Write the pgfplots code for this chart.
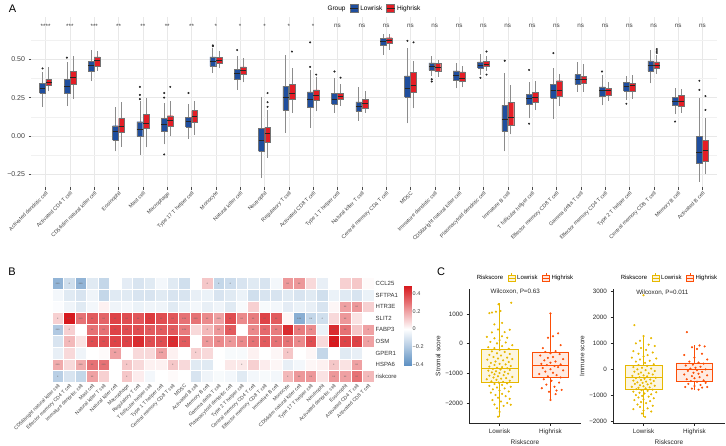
\documentclass[border=0pt]{standalone}
\usepackage{pgfplots}
\pgfplotsset{compat=1.18}
\usepackage{pgfplotstable}
\usepackage{fontspec}
\setmainfont{Liberation Sans}
\definecolor{lowblue}{RGB}{31,78,158}
\definecolor{highred}{RGB}{228,30,38}
\definecolor{lowyel}{RGB}{231,184,0}
\definecolor{highorg}{RGB}{252,78,7}
\definecolor{gridc}{RGB}{232,232,232}
\newcommand\fs[1]{\fontsize{#1}{#1}\selectfont}
\pgfplotsset{colormap={hm}{rgb255(0pt)=(95,145,195); rgb255(41pt)=(255,255,255); rgb255(90pt)=(215,25,30)}}

% Panel A: box statistics (lower whisker, quartiles, median, upper whisker)
\pgfplotstableread{
lw lq med uq uw
0.19 0.28 0.31 0.345 0.42
0.195 0.28 0.325 0.368 0.48
0.357 0.424 0.46 0.487 0.56
-0.10 -0.026 0.028 0.067 0.186
-0.123 0 0.043 0.093 0.23
-0.054 0.032 0.076 0.115 0.216
-0.02 0.06 0.095 0.12 0.21
0.41 0.455 0.487 0.515 0.57
0.30 0.37 0.407 0.435 0.52
-0.275 -0.10 -0.03 0.05 0.255
0.02 0.17 0.25 0.325 0.525
0.055 0.186 0.24 0.288 0.43
0.15 0.208 0.238 0.277 0.38
0.10 0.162 0.195 0.223 0.316
0.53 0.589 0.613 0.638 0.667
0.082 0.255 0.31 0.392 0.57
0.39 0.429 0.455 0.476 0.524
0.31 0.364 0.396 0.424 0.476
0.40 0.444 0.461 0.483 0.532
-0.10 0.032 0.11 0.20 0.41
0.115 0.206 0.245 0.27 0.353
0.113 0.245 0.30 0.338 0.44
0.288 0.338 0.368 0.40 0.483
0.20 0.262 0.294 0.32 0.396
0.234 0.294 0.32 0.35 0.392
0.342 0.424 0.457 0.489 0.563
0.143 0.20 0.227 0.251 0.31
-0.297 -0.177 -0.106 0 0.25
}\lowtab
\pgfplotstableread{
lw lq med uq uw
0.29 0.33 0.35 0.37 0.45
0.24 0.34 0.38 0.42 0.52
0.424 0.452 0.49 0.515 0.555
-0.07 0.024 0.06 0.115 0.22
-0.074 0.05 0.082 0.14 0.25
0 0.065 0.10 0.132 0.23
0.005 0.09 0.125 0.165 0.23
0.44 0.472 0.493 0.51 0.555
0.35 0.403 0.428 0.45 0.51
-0.14 -0.04 0.017 0.055 0.17
0.15 0.238 0.28 0.337 0.44
0.16 0.234 0.262 0.30 0.385
0.195 0.238 0.258 0.277 0.34
0.15 0.18 0.21 0.238 0.29
0.563 0.602 0.623 0.64 0.667
0.18 0.283 0.33 0.413 0.49
0.385 0.42 0.45 0.472 0.494
0.316 0.355 0.375 0.418 0.459
0.424 0.455 0.468 0.487 0.52
0.011 0.069 0.121 0.219 0.335
0.169 0.223 0.251 0.283 0.357
0.195 0.262 0.294 0.36 0.407
0.288 0.346 0.368 0.39 0.472
0.227 0.266 0.294 0.31 0.353
0.242 0.294 0.33 0.342 0.396
0.407 0.44 0.461 0.483 0.526
0.152 0.195 0.227 0.266 0.303
-0.247 -0.167 -0.095 -0.03 0.115
}\hightab

% draws one box (whiskers, box, median) of row #2 of table #1 at x position #3 in colour #4
\newcommand\boxrow[4]{%
  \pgfplotstablegetelem{#2}{lw}\of#1\let\vlw\pgfplotsretval
  \pgfplotstablegetelem{#2}{lq}\of#1\let\vlq\pgfplotsretval
  \pgfplotstablegetelem{#2}{med}\of#1\let\vmed\pgfplotsretval
  \pgfplotstablegetelem{#2}{uq}\of#1\let\vuq\pgfplotsretval
  \pgfplotstablegetelem{#2}{uw}\of#1\let\vuw\pgfplotsretval
  \pgfmathsetmacro\vpos{#3}%
  \pgfmathsetmacro\vl{#3-0.118}%
  \pgfmathsetmacro\vr{#3+0.118}%
  \edef\doplot{%
    \noexpand\addplot[black!45, line width=0.7pt] coordinates {(\vpos,\vlw) (\vpos,\vlq)};
    \noexpand\addplot[black!45, line width=0.7pt] coordinates {(\vpos,\vuq) (\vpos,\vuw)};
    \noexpand\addplot[fill=#4, draw=black!55, line width=0.4pt] coordinates {(\vl,\vlq) (\vr,\vlq) (\vr,\vuq) (\vl,\vuq) (\vl,\vlq)};
    \noexpand\addplot[black!85, line width=0.8pt] coordinates {(\vl,\vmed) (\vr,\vmed)};
  }%
  \doplot}

\begin{document}
\begin{tikzpicture}
\useasboundingbox (0pt,0pt) rectangle (726pt,445pt);

% ---------------- Panel A ----------------
\node[font=\fs{11}] at (12.5pt,436pt) {A};
\begin{axis}[
  at={(31pt,258pt)}, anchor=south west, scale only axis, width=686pt, height=170pt,
  xmin=-0.6, xmax=27.6, ymin=-0.332, ymax=0.775,
  xtick={0,...,27},
  xticklabels={Activated dendritic cell,Activated CD4 T cell,CD56dim natural killer cell,Eosinophil,Mast cell,Macrophage,Type 17 T helper cell,Monocyte,Natural killer cell,Neutrophil,Regulatory T cell,Activated CD8 T cell,Type 1 T helper cell,Natural killer T cell,Central memory CD4 T cell,MDSC,Immature dendritic cell,CD56bright natural killer cell,Plasmacytoid dendritic cell,Immature B cell,T follicular helper cell,Effector memory CD8 T cell,Gamma delta T cell,Effector memory CD4 T cell,Type 2 T helper cell,Central memory CD8 T cell,Memory B cell,Activated B cell},
  xticklabel style={rotate=45, anchor=north east, font=\fs{5.3}, text=black!75, inner sep=1pt},
  ytick={-0.25,0,0.25,0.5}, yticklabels={−0.25,0.00,0.25,0.50},
  yticklabel style={font=\fs{7}, text=black!75},
  minor ytick={-0.125,0.125,0.375,0.625},
  grid=both, major grid style={gridc, line width=0.5pt}, minor grid style={gridc!60, line width=0.3pt},
  axis line style={draw=none},
  tick align=outside, major tick length=2.5pt, minor tick length=0pt,
  tick style={black!70, line width=0.4pt}, tick pos=left,
  legend style={at={(0.5,1)}, anchor=south, yshift=3pt, legend columns=-1, draw=none, fill=none,
    font=\fs{6.5}, inner sep=0pt, /tikz/every even column/.append style={column sep=2pt}},
  legend cell align=left,
]
\addlegendimage{empty legend}\addlegendentry{Group}
\addlegendimage{legend image code/.code={\draw[fill=lowblue, draw=black!55] (0pt,-4pt) rectangle (8pt,4pt); \draw[black!85, line width=0.7pt] (0pt,0pt)--(8pt,0pt);}}\addlegendentry{Lowrisk}
\addlegendimage{legend image code/.code={\draw[fill=highred, draw=black!55] (0pt,-4pt) rectangle (8pt,4pt); \draw[black!85, line width=0.7pt] (0pt,0pt)--(8pt,0pt);}}\addlegendentry{Highrisk}

\pgfplotsinvokeforeach{0,...,27}{
  \boxrow{\lowtab}{#1}{#1-0.125}{lowblue}
  \boxrow{\hightab}{#1}{#1+0.125}{highred}
}
% outliers
\addplot[only marks, mark=*, mark size=0.8pt, black!85] table[row sep=\\] {
x y\\ -0.125 0.44\\ 0.875 0.51\\ 3.875 0.32\\ 3.875 0.268\\ 3.875 0.24\\ 4.875 0.28\\ 4.875 0.25\\ 4.875 -0.12\\
5.875 0.28\\ 6.875 0.585\\ 6.875 0.59\\ 7.875 0.56\\ 10.875 0.61\\ 10.875 0.45\\ 11.875 0.42\\ 14.875 0.62\\
15.875 0.37\\ 15.875 0.355\\ 17.875 0.379\\ 18.875 0.49\\ 19.875 0.43\\ 19.875 0.08\\ 20.875 0.54\\ 22.875 0.42\\
23.875 0.21\\ 25.875 0.094\\ 26.875 0.36\\ 26.875 0.30\\
5.125 0.32\\ 9.125 0.28\\ 9.125 0.22\\ 9.125 0.19\\ 10.125 0.55\\ 11.125 0.40\\ 12.125 0.38\\ 15.125 0.61\\
18.125 0.55\\ 18.125 0.40\\ 25.125 0.566\\ 25.125 0.553\\ 25.125 0.541\\ 27.125 0.26\\ 27.125 0.17\\
};
% significance labels
\addplot[only marks, mark=none, nodes near coords, point meta=explicit symbolic, nodes near coords align={center},
  every node near coord/.append style={font=\fs{6.3}, text=black!75, anchor=center}] table[row sep=\\, meta=s] {
x y s\\ 0 0.715 ****\\ 1 0.715 ***\\ 2 0.715 ***\\ 3 0.715 **\\ 4 0.715 **\\ 5 0.715 **\\ 6 0.715 **\\
7 0.715 *\\ 8 0.715 *\\ 9 0.715 *\\ 10 0.715 *\\ 11 0.715 *\\ 12 0.715 ns\\ 13 0.715 ns\\ 14 0.715 ns\\
15 0.715 ns\\ 16 0.715 ns\\ 17 0.715 ns\\ 18 0.715 ns\\ 19 0.715 ns\\ 20 0.715 ns\\ 21 0.715 ns\\
22 0.715 ns\\ 23 0.715 ns\\ 24 0.715 ns\\ 25 0.715 ns\\ 26 0.715 ns\\ 27 0.715 ns\\
};
\end{axis}

% ---------------- Panel B ----------------
\node[font=\fs{11}] at (12pt,173pt) {B};
\begin{axis}[
  at={(52pt,63pt)}, anchor=south west, scale only axis, width=322pt, height=104.4pt,
  xmin=-0.5, xmax=27.5, ymin=-0.5, ymax=8.5, y dir=reverse,
  axis line style={draw=none}, major tick length=0pt, clip=false,
  xtick={0,...,27},
  xticklabels={CD56bright natural killer cell,Effector memory CD4 T cell,Immature dendritic cell,Mast cell,Natural killer T cell,Natural killer cell,Macrophage,Regulatory T cell,T follicular helper cell,Type 1 T helper cell,Central memory CD8 T cell,MDSC,Activated B cell,Memory B cell,Gamma delta T cell,Plasmacytoid dendritic cell,Type 2 T helper cell,Central memory CD4 T cell,Effector memory CD8 T cell,Immature B cell,Monocyte,CD56dim natural killer cell,Type 17 T helper cell,Neutrophil,Activated dendritic cell,Eosinophil,Activated CD4 T cell,Activated CD8 T cell},
  xticklabel style={rotate=45, anchor=north east, font=\fs{5}, text=black!75, inner sep=1pt},
  ytick={0,...,8}, yticklabels={CCL25,SFTPA1,HTR3E,SLIT2,FABP3,OSM,GPER1,HSPA6,riskcore},
  yticklabel pos=right, yticklabel style={font=\fs{6}, text=black!80, inner sep=1.5pt},
  colormap name=hm, point meta min=-0.41, point meta max=0.49,
]
\addplot[scatter, only marks, mark=square*, mark size=5.75pt, line width=0.5pt,
  scatter/use mapped color={draw=white, fill=mapped color}, point meta=explicit]
  table[row sep=\\, meta=v] {
x y v\\
0 0 -0.28\\ 1 0 -0.12\\ 2 0 -0.28\\ 3 0 -0.08\\ 4 0 -0.15\\ 5 0 0.0\\ 6 0 -0.07\\ 7 0 -0.1\\ 8 0 -0.08\\ 9 0 -0.03\\ 10 0 -0.08\\ 11 0 -0.12\\ 12 0 0.0\\ 13 0 0.12\\ 14 0 -0.15\\ 15 0 -0.13\\ 16 0 -0.1\\ 17 0 -0.08\\ 18 0 -0.1\\ 19 0 -0.03\\ 20 0 0.22\\ 21 0 0.22\\ 22 0 0.08\\ 23 0 -0.06\\ 24 0 0.0\\ 25 0 0.1\\ 26 0 0.12\\ 27 0 0.01\\
0 1 -0.03\\ 1 1 -0.08\\ 2 1 -0.1\\ 3 1 -0.04\\ 4 1 -0.15\\ 5 1 -0.08\\ 6 1 -0.08\\ 7 1 -0.1\\ 8 1 -0.1\\ 9 1 -0.08\\ 10 1 -0.1\\ 11 1 -0.1\\ 12 1 -0.06\\ 13 1 -0.05\\ 14 1 -0.1\\ 15 1 -0.08\\ 16 1 -0.05\\ 17 1 -0.12\\ 18 1 -0.1\\ 19 1 -0.1\\ 20 1 -0.08\\ 21 1 -0.1\\ 22 1 -0.08\\ 23 1 -0.12\\ 24 1 -0.05\\ 25 1 -0.08\\ 26 1 -0.1\\ 27 1 -0.05\\
0 2 -0.01\\ 1 2 -0.04\\ 2 2 -0.08\\ 3 2 -0.03\\ 4 2 0.03\\ 5 2 -0.04\\ 6 2 -0.03\\ 7 2 -0.05\\ 8 2 -0.04\\ 9 2 -0.04\\ 10 2 -0.08\\ 11 2 -0.05\\ 12 2 -0.03\\ 13 2 -0.06\\ 14 2 -0.04\\ 15 2 -0.08\\ 16 2 -0.02\\ 17 2 0.1\\ 18 2 -0.02\\ 19 2 -0.03\\ 20 2 -0.07\\ 21 2 -0.05\\ 22 2 -0.06\\ 23 2 -0.1\\ 24 2 0.02\\ 25 2 0.2\\ 26 2 0.22\\ 27 2 0.1\\
0 3 0.1\\ 1 3 0.5\\ 2 3 0.3\\ 3 3 0.35\\ 4 3 0.33\\ 5 3 0.4\\ 6 3 0.38\\ 7 3 0.36\\ 8 3 0.42\\ 9 3 0.38\\ 10 3 0.36\\ 11 3 0.3\\ 12 3 0.3\\ 13 3 0.25\\ 14 3 0.2\\ 15 3 0.38\\ 16 3 0.25\\ 17 3 0.28\\ 18 3 0.4\\ 19 3 0.35\\ 20 3 0.02\\ 21 3 -0.3\\ 22 3 -0.15\\ 23 3 -0.12\\ 24 3 0.08\\ 25 3 0.22\\ 26 3 0.06\\ 27 3 0.0\\
0 4 -0.2\\ 1 4 0.1\\ 2 4 0.0\\ 3 4 0.3\\ 4 4 0.3\\ 5 4 0.4\\ 6 4 0.38\\ 7 4 0.38\\ 8 4 0.35\\ 9 4 0.35\\ 10 4 0.35\\ 11 4 0.28\\ 12 4 0.08\\ 13 4 0.15\\ 14 4 0.22\\ 15 4 0.35\\ 16 4 0.0\\ 17 4 0.25\\ 18 4 0.32\\ 19 4 0.28\\ 20 4 0.45\\ 21 4 0.28\\ 22 4 0.25\\ 23 4 -0.05\\ 24 4 0.45\\ 25 4 0.3\\ 26 4 0.12\\ 27 4 0.2\\
0 5 -0.1\\ 1 5 0.15\\ 2 5 0.06\\ 3 5 0.38\\ 4 5 0.38\\ 5 5 0.4\\ 6 5 0.4\\ 7 5 0.45\\ 8 5 0.38\\ 9 5 0.38\\ 10 5 0.45\\ 11 5 0.35\\ 12 5 0.0\\ 13 5 0.22\\ 14 5 0.25\\ 15 5 0.22\\ 16 5 0.25\\ 17 5 0.3\\ 18 5 0.35\\ 19 5 0.3\\ 20 5 0.3\\ 21 5 0.25\\ 22 5 0.38\\ 23 5 0.08\\ 24 5 0.5\\ 25 5 0.4\\ 26 5 0.4\\ 27 5 0.2\\
0 6 -0.06\\ 1 6 0.08\\ 2 6 -0.04\\ 3 6 0.0\\ 4 6 0.01\\ 5 6 0.2\\ 6 6 0.0\\ 7 6 0.08\\ 8 6 0.08\\ 9 6 0.2\\ 10 6 0.03\\ 11 6 0.0\\ 12 6 0.1\\ 13 6 0.08\\ 14 6 0.0\\ 15 6 -0.02\\ 16 6 -0.02\\ 17 6 0.03\\ 18 6 0.0\\ 19 6 0.02\\ 20 6 0.12\\ 21 6 0.0\\ 22 6 0.02\\ 23 6 -0.15\\ 24 6 0.0\\ 25 6 -0.08\\ 26 6 -0.06\\ 27 6 0.0\\
0 7 0.18\\ 1 7 0.08\\ 2 7 0.18\\ 3 7 0.3\\ 4 7 0.3\\ 5 7 0.0\\ 6 7 0.12\\ 7 7 0.08\\ 8 7 0.03\\ 9 7 0.03\\ 10 7 0.12\\ 11 7 0.08\\ 12 7 -0.08\\ 13 7 -0.08\\ 14 7 0.0\\ 15 7 0.05\\ 16 7 0.05\\ 17 7 0.1\\ 18 7 0.04\\ 19 7 0.02\\ 20 7 -0.06\\ 21 7 -0.03\\ 22 7 0.02\\ 23 7 0.03\\ 24 7 0.12\\ 25 7 0.06\\ 26 7 0.2\\ 27 7 0.0\\
0 8 -0.18\\ 1 8 -0.1\\ 2 8 -0.15\\ 3 8 0.2\\ 4 8 0.1\\ 5 8 0.0\\ 6 8 0.12\\ 7 8 0.04\\ 8 8 -0.03\\ 9 8 0.0\\ 10 8 0.01\\ 11 8 0.0\\ 12 8 -0.1\\ 13 8 -0.04\\ 14 8 -0.02\\ 15 8 -0.03\\ 16 8 -0.08\\ 17 8 -0.03\\ 18 8 -0.02\\ 19 8 -0.03\\ 20 8 0.15\\ 21 8 0.22\\ 22 8 0.22\\ 23 8 0.06\\ 24 8 0.22\\ 25 8 0.2\\ 26 8 0.3\\ 27 8 0.15\\
};
\addplot[only marks, mark=none, nodes near coords, point meta=explicit symbolic, nodes near coords align={center},
  every node near coord/.append style={font=\fs{3.6}, text=black!60, inner sep=0pt, anchor=center, yshift=-0.7pt}]
  table[row sep=\\, meta=s] {
x y s\\
0 0 ***\\ 1 0 *\\ 2 0 ***\\ 13 0 *\\ 14 0 *\\ 15 0 *\\ 20 0 **\\ 21 0 **\\
25 2 **\\ 26 2 **\\
0 3 *\\ 1 3 ***\\ 2 3 ***\\ 3 3 **\\ 4 3 **\\ 5 3 **\\ 6 3 **\\ 7 3 **\\ 8 3 **\\ 9 3 **\\ 10 3 **\\ 11 3 ***\\ 12 3 ***\\ 13 3 **\\ 14 3 ***\\ 15 3 **\\ 16 3 **\\ 17 3 **\\ 18 3 **\\ 19 3 **\\ 21 3 ***\\ 22 3 **\\ 23 3 *\\ 25 3 **\\
0 4 ***\\ 1 4 *\\ 3 4 **\\ 4 4 **\\ 5 4 **\\ 6 4 **\\ 7 4 **\\ 8 4 **\\ 9 4 **\\ 10 4 **\\ 11 4 ***\\ 13 4 *\\ 14 4 **\\ 15 4 **\\ 17 4 **\\ 18 4 **\\ 19 4 **\\ 20 4 **\\ 21 4 **\\ 22 4 **\\ 24 4 **\\ 25 4 **\\ 27 4 *\\
1 5 *\\ 3 5 **\\ 4 5 **\\ 5 5 **\\ 6 5 **\\ 7 5 **\\ 8 5 **\\ 9 5 **\\ 10 5 **\\ 11 5 ***\\ 13 5 **\\ 14 5 **\\ 15 5 **\\ 16 5 **\\ 17 5 **\\ 18 5 **\\ 19 5 **\\ 20 5 **\\ 21 5 **\\ 22 5 **\\ 24 5 **\\ 25 5 **\\ 26 5 **\\ 27 5 *\\
5 6 **\\ 9 6 ***\\ 12 6 *\\ 20 6 *\\
0 7 ***\\ 2 7 ***\\ 3 7 **\\ 4 7 ***\\ 6 7 *\\ 10 7 *\\ 16 7 *\\ 24 7 *\\ 26 7 **\\
0 8 *\\ 3 8 **\\ 6 8 *\\ 20 8 *\\ 21 8 **\\ 22 8 **\\ 24 8 **\\ 25 8 **\\ 26 8 **\\ 27 8 *\\
};
\end{axis}

% colour scale of panel B, drawn as its own small axis
\begin{axis}[
  at={(404pt,80pt)}, anchor=south west, scale only axis, width=7pt, height=79pt,
  xmin=0, xmax=1, ymin=-0.41, ymax=0.49,
  axis line style={draw=none}, major tick length=0pt, xtick=\empty,
  ytick={-0.4,-0.2,0,0.2,0.4}, yticklabels={−0.4,−0.2,0,0.2,0.4},
  yticklabel pos=right, yticklabel style={font=\fs{5.5}, text=black!75, inner sep=1.5pt},
  colormap name=hm, point meta min=-0.41, point meta max=0.49,
]
\addplot[surf, shader=interp, point meta=y] coordinates {
(0,-0.41) (1,-0.41)

(0,-0.3) (1,-0.3)

(0,-0.2) (1,-0.2)

(0,-0.1) (1,-0.1)

(0,0) (1,0)

(0,0.1) (1,0.1)

(0,0.2) (1,0.2)

(0,0.3) (1,0.3)

(0,0.4) (1,0.4)

(0,0.49) (1,0.49)
};
\end{axis}

% ---------------- Panel C ----------------
\node[font=\fs{11}] at (441pt,173pt) {C};
\pgfplotsset{cstyle/.style={
  scale only axis, anchor=south west, height=134pt, width=112pt,
  xmin=0.4, xmax=2.6,
  axis x line*=bottom, axis y line*=left, axis line style={black!85, line width=0.5pt, -},
  xtick={1,2}, xticklabels={Lowrisk,Highrisk},
  tick align=outside, major tick length=2.5pt, tick style={black!85, line width=0.5pt},
  ticklabel style={font=\fs{6.3}, text=black!85},
  xlabel={Riskscore}, label style={font=\fs{6.5}, text=black!85},
  xlabel style={yshift=2pt}, ylabel style={yshift=-2pt},
  legend style={at={(0.5,1)}, anchor=south, yshift=6pt, legend columns=-1, draw=none, fill=none,
    font=\fs{6}, inner sep=0pt, /tikz/every even column/.append style={column sep=2.5pt}},
}}
\begin{axis}[cstyle, at={(469pt,22pt)}, ymin=-2674, ymax=1843,
  ytick={-2000,-1000,0,1000}, yticklabels={−2000,−1000,0,1000}, ylabel={Stromal score}]
\addlegendimage{empty legend}\addlegendentry{Riskscore}
\addlegendimage{legend image code/.code={\draw[draw=lowyel, fill=lowyel!15, line width=0.5pt] (0pt,-3pt) rectangle (7pt,3pt); \draw[lowyel, line width=0.5pt] (0pt,0pt)--(7pt,0pt) (3.5pt,-4.5pt)--(3.5pt,-3pt) (3.5pt,3pt)--(3.5pt,4.5pt);}}\addlegendentry{Lowrisk}
\addlegendimage{legend image code/.code={\draw[draw=highorg, fill=highorg!15, line width=0.5pt] (0pt,-3pt) rectangle (7pt,3pt); \draw[highorg, line width=0.5pt] (0pt,0pt)--(7pt,0pt) (3.5pt,-4.5pt)--(3.5pt,-3pt) (3.5pt,3pt)--(3.5pt,4.5pt);}}\addlegendentry{Highrisk}
% Lowrisk box: whiskers -2460 / 1380, quartiles -1290 / -200, median -830
\addplot[lowyel, line width=0.6pt] coordinates {(1,-2460) (1,-1290)};
\addplot[lowyel, line width=0.6pt] coordinates {(1,-200) (1,1380)};
\addplot[draw=lowyel, fill=lowyel!12, line width=0.6pt] coordinates {(0.64,-1290) (1.36,-1290) (1.36,-200) (0.64,-200) (0.64,-1290)};
\addplot[lowyel, line width=0.8pt] coordinates {(0.64,-830) (1.36,-830)};
% Highrisk box: whiskers -1900 / 1020, quartiles -1120 / -280, median -720
\addplot[highorg, line width=0.6pt] coordinates {(2,-1900) (2,-1120)};
\addplot[highorg, line width=0.6pt] coordinates {(2,-280) (2,1020)};
\addplot[draw=highorg, fill=highorg!12, line width=0.6pt] coordinates {(1.64,-1120) (2.36,-1120) (2.36,-280) (1.64,-280) (1.64,-1120)};
\addplot[highorg, line width=0.8pt] coordinates {(1.64,-720) (2.36,-720)};
\addplot[only marks, mark=*, mark size=0.85pt, lowyel] table {
x y
1.23 1380
0.98 1330
0.85 1050
0.93 1080
1.02 1100
0.80 1030
1.05 700
0.90 650
1.20 470
0.97 480
1.10 390
0.85 380
1.05 250
0.75 230
1.15 200
0.90 180
1.00 120
0.82 60
1.12 40
0.95 10
1.25 -50
1.05 -80
0.78 -120
0.90 -150
1.18 -170
1.00 -210
0.85 -260
1.10 -280
0.95 -320
1.20 -350
0.80 -380
1.03 -400
0.88 -450
1.15 -470
0.97 -500
1.25 -520
0.76 -540
1.07 -560
0.92 -600
1.18 -620
0.83 -650
1.00 -680
1.12 -700
0.90 -720
1.22 -750
0.80 -770
1.05 -790
0.95 -810
1.15 -830
0.87 -850
1.02 -870
1.20 -890
0.78 -910
0.93 -930
1.10 -950
0.85 -970
1.00 -990
1.17 -1010
0.90 -1030
1.08 -1060
0.80 -1080
0.97 -1100
1.25 -1120
0.88 -1140
1.13 -1160
1.03 -1180
0.75 -1200
0.94 -1220
1.20 -1250
0.84 -1270
1.07 -1290
0.98 -1310
1.15 -1340
0.90 -1360
1.05 -1390
0.80 -1420
1.22 -1450
0.95 -1480
1.10 -1510
0.87 -1540
1.00 -1580
1.18 -1610
0.83 -1650
1.05 -1690
0.92 -1730
1.12 -1770
0.97 -1820
1.20 -1860
0.86 -1900
1.03 -1950
1.15 -2000
0.90 -2050
1.22 -2060
1.08 -2100
0.95 -2180
1.00 -2300
0.97 -2460
};
\addplot[only marks, mark=*, mark size=0.85pt, highorg] table {
x y
2.00 1020
2.15 350
2.05 250
1.95 200
2.20 -50
1.85 -150
2.10 -250
1.90 -280
2.00 -320
2.18 -350
1.80 -400
2.05 -450
1.95 -480
2.25 -520
1.88 -560
2.10 -600
2.00 -640
1.82 -680
2.20 -700
1.93 -720
2.08 -750
2.15 -790
1.85 -820
2.00 -860
2.25 -900
1.90 -940
2.05 -980
1.78 -1020
2.12 -1060
1.95 -1100
2.20 -1140
1.87 -1200
2.02 -1250
2.17 -1310
1.92 -1380
2.08 -1450
1.83 -1500
2.22 -1560
2.12 -1580
1.97 -1620
2.10 -1700
2.00 -1900
};
\node[font=\fs{6.3}, text=black!85] at (axis cs:1.31,1740) {Wilcoxon, P=0.63};
\end{axis}

\begin{axis}[cstyle, at={(613pt,22pt)}, ymin=-2063, ymax=3090,
  ytick={-2000,-1000,0,1000,2000,3000}, yticklabels={−2000,−1000,0,1000,2000,3000}, ylabel={Immune score}]
\addlegendimage{empty legend}\addlegendentry{Riskscore}
\addlegendimage{legend image code/.code={\draw[draw=lowyel, fill=lowyel!15, line width=0.5pt] (0pt,-3pt) rectangle (7pt,3pt); \draw[lowyel, line width=0.5pt] (0pt,0pt)--(7pt,0pt) (3.5pt,-4.5pt)--(3.5pt,-3pt) (3.5pt,3pt)--(3.5pt,4.5pt);}}\addlegendentry{Lowrisk}
\addlegendimage{legend image code/.code={\draw[draw=highorg, fill=highorg!15, line width=0.5pt] (0pt,-3pt) rectangle (7pt,3pt); \draw[highorg, line width=0.5pt] (0pt,0pt)--(7pt,0pt) (3.5pt,-4.5pt)--(3.5pt,-3pt) (3.5pt,3pt)--(3.5pt,4.5pt);}}\addlegendentry{Highrisk}
% Lowrisk box: whiskers -1830 / 1280, quartiles -780 / 167, median -311
\addplot[lowyel, line width=0.6pt] coordinates {(1,-1830) (1,-780)};
\addplot[lowyel, line width=0.6pt] coordinates {(1,167) (1,1280)};
\addplot[draw=lowyel, fill=lowyel!12, line width=0.6pt] coordinates {(0.64,-780) (1.36,-780) (1.36,167) (0.64,167) (0.64,-780)};
\addplot[lowyel, line width=0.8pt] coordinates {(0.64,-311) (1.36,-311)};
% Highrisk box: whiskers -780 / 920, quartiles -443 / 245, median 0
\addplot[highorg, line width=0.6pt] coordinates {(2,-780) (2,-443)};
\addplot[highorg, line width=0.6pt] coordinates {(2,245) (2,920)};
\addplot[draw=highorg, fill=highorg!12, line width=0.6pt] coordinates {(1.64,-443) (2.36,-443) (2.36,245) (1.64,245) (1.64,-443)};
\addplot[highorg, line width=0.8pt] coordinates {(1.64,0) (2.36,0)};
\addplot[only marks, mark=*, mark size=0.85pt, lowyel] table {
x y
1.00 2850
0.82 1700
1.00 1280
1.15 1200
0.93 1100
0.85 1000
1.10 950
1.22 900
0.95 820
1.05 750
0.80 700
1.18 650
0.90 600
1.08 550
1.00 500
0.77 450
1.25 420
0.93 380
1.12 330
0.85 300
1.03 250
1.20 200
0.90 170
1.07 130
0.80 90
0.97 60
1.15 30
0.88 0
1.04 -30
1.22 -60
0.82 -90
0.95 -120
1.10 -150
0.90 -180
1.18 -200
1.00 -230
0.78 -250
1.07 -270
0.92 -300
1.24 -320
0.85 -340
1.02 -360
1.13 -390
0.95 -410
0.80 -430
1.20 -450
1.05 -470
0.88 -500
0.98 -520
1.15 -540
0.83 -560
1.08 -580
0.93 -610
1.22 -630
1.00 -650
0.77 -670
1.12 -690
0.90 -710
1.04 -730
0.86 -760
1.18 -780
0.96 -800
1.08 -830
0.80 -860
1.25 -880
0.92 -900
1.02 -930
1.15 -960
0.85 -990
0.97 -1020
1.10 -1050
0.90 -1080
1.20 -1110
1.00 -1150
0.82 -1180
1.13 -1220
0.95 -1260
1.05 -1300
0.88 -1350
1.18 -1400
0.93 -1450
1.08 -1500
0.80 -1530
1.00 -1580
1.15 -1620
0.97 -1700
1.03 -1830
};
\addplot[only marks, mark=*, mark size=0.85pt, highorg] table {
x y
1.85 1430
2.10 920
2.20 880
1.95 850
2.05 780
2.15 600
1.80 550
2.00 450
2.25 380
1.90 300
2.08 260
2.18 220
1.97 180
1.83 150
2.12 100
2.02 60
1.92 30
2.22 0
2.05 -30
1.87 -60
2.15 -100
1.98 -130
2.08 -170
1.80 -200
2.25 -230
1.95 -260
2.10 -300
2.00 -340
1.85 -380
2.18 -420
1.93 -450
2.05 -480
2.22 -520
1.88 -560
2.12 -600
2.00 -640
1.82 -680
2.25 -680
2.15 -700
1.95 -740
2.08 -780
};
\node[font=\fs{6.3}, text=black!85] at (axis cs:1.37,2935) {Wilcoxon, P=0.011};
\end{axis}
\end{tikzpicture}
\end{document}
